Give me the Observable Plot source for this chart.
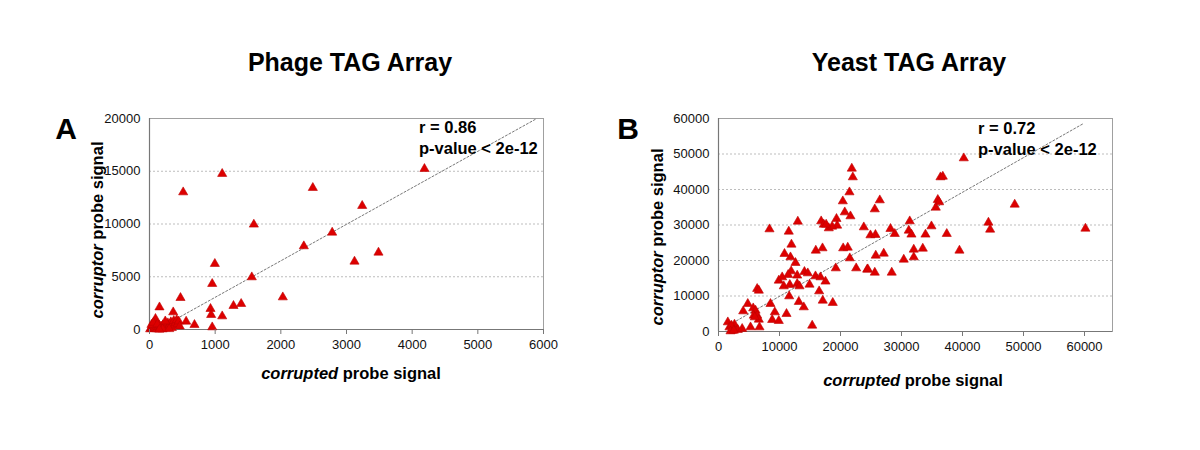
<!DOCTYPE html>
<html>
<head>
<meta charset="utf-8">
<script src="https://cdn.jsdelivr.net/npm/d3@7"></script>
<script src="https://cdn.jsdelivr.net/npm/@observablehq/plot@0.6"></script>
<style>
  body { margin: 0; background: #fff; }
  #page { position: relative; width: 1200px; height: 450px; background: #fff; font-family: "Liberation Sans", Arial, sans-serif; color: #000; overflow: hidden; }
  .abs { position: absolute; white-space: nowrap; }
  .title { font-size: 25px; font-weight: bold; transform: translate(-50%, -50%); }
  .letter { font-size: 30px; font-weight: bold; transform: translate(-50%, -50%); }
  .xlab { font-size: 16.5px; font-weight: bold; transform: translate(-50%, -50%); }
  .ylab { font-size: 16.5px; font-weight: bold; transform: translate(-50%, -50%) rotate(-90deg); }
  .ann { font-size: 16.5px; font-weight: bold; line-height: 20.5px; }
  svg.chart { position: absolute; top: 0; }
</style>
</head>
<body>
<div id="page"></div>
<script>
// ---------- Panel A: Phage TAG Array ----------
const phageCorrupted = [1107, 513, 1589, 995, 955, 1558, 2350, 2030, 472, 152, 1279, 1396, 929, 939, 1107, 361, 685, 955, 91, 558, 4187, 2487, 3239, 2782, 3122, 3487,
  10, 25, 40, 55, 70, 85, 100, 115, 130, 145, 160, 175, 190, 205, 220, 235, 250, 265, 280, 295, 310, 325, 340, 355, 370, 385, 400, 415, 430, 445, 460, 30, 60, 120, 200, 300, 150, 240];
const phageCorruptor = [14760, 13015, 9955, 6230, 4330, 4960, 7900, 3060, 3000, 2110, 2245, 2435, 1960, 1390, 1260, 1640, 445, 218, 1014, 758, 15230, 13430, 11725, 9195, 6445, 7300,
  30, 120, 60, 200, 90, 300, 150, 40, 250, 380, 120, 300, 60, 420, 200, 520, 100, 350, 600, 250, 480, 700, 150, 560, 820, 400, 650, 900, 520, 780, 300, 450, 650, 500, 30, 50, 0, 780];
const phageXTicks = [0, 1000, 2000, 3000, 4000, 5000, 6000];
const phageYTicks = [0, 5000, 10000, 15000, 20000];
const phageFit = { slope: 3.46, intercept: -410, from: 150, to: 5900 };

// ---------- Panel B: Yeast TAG Array ----------
const yeastCorrupted = [21850, 22020, 21470, 20380, 20700, 21630, 19340, 19450, 18080, 18630, 16830, 17260, 17650, 13000, 8360, 11520, 11960, 11800, 10820, 12620,
  20440, 21190, 21520, 15950, 17050, 22570, 19230, 24370, 11910, 14090, 14640, 12900, 11420, 15900, 16720, 17540, 9880, 10440, 10700, 11690,
  12900, 13280, 14920, 16500, 11590, 13160, 13980, 17090, 18730, 8520, 9230, 11150, 8800, 9880, 6340, 6610, 4800, 4050, 5690, 6070,
  5790, 6340, 6610, 5250, 6720, 15360, 1530, 1800, 2620, 2240, 3160, 3880, 2130, 1970, 2510, 5950,
  40210, 36390, 36770, 35950, 36170, 35620, 48560, 26440, 25620, 23820, 31350, 44250, 44530, 60150, 28190, 28900, 31190, 31630, 34910, 33930,
  37420, 24910, 25730, 32010, 33490, 39500, 25780, 27090, 32010, 30370, 24470, 25620, 28400];
const yeastCorruptor = [45920, 43470, 39240, 36700, 33600, 32480, 31750, 29860, 29100, 29580, 31070, 30140, 30140, 30990, 28820, 28170, 24510, 20930, 21890, 19350,
  23470, 23660, 20650, 22820, 23470, 17830, 17830, 17470, 16990, 16820, 16420, 15780, 15970, 15580, 15300, 14090, 14370, 15300, 12760, 13150,
  13440, 12760, 13240, 11350, 9950, 8370, 6850, 8730, 8090, 7800, 5440, 4980, 3290, 3010, 12030, 11550, 7800, 5720, 6560, 5920,
  4510, 4510, 3380, 1210, 1210, 1690, 2620, 1210, 1970, 280, 480, 760, 1690, 90, 280, 4030,
  48820, 43470, 43660, 37100, 36430, 34930, 35780, 36990, 34450, 29380, 31070, 30700, 28730, 29010, 28930, 27520, 28450, 27330, 29660, 27330,
  27520, 27130, 27240, 23100, 23380, 22820, 21410, 21970, 20930, 20280, 17550, 16620, 16620];
const yeastXTicks = [0, 10000, 20000, 30000, 40000, 50000, 60000];
const yeastYTicks = [0, 10000, 20000, 30000, 40000, 50000, 60000];
const yeastFit = { slope: 0.977, intercept: 130, from: 1800, to: 59800 };

const titles = ["Phage TAG Array", "Yeast TAG Array"];
const letters = ["A", "B"];
const annR = ["r = 0.86", "r = 0.72"];
const annP = "p-value < 2e-12";

function makePanel(xs, ys, xTicks, yTicks, xMax, fit, left, margins) {
  const pts = xs.map((x, i) => ({x, y: ys[i]}));
  const fitPts = [fit.from, fit.to].map(x => ({x, y: fit.slope * x + fit.intercept}));
  const yMax = yTicks[yTicks.length - 1];
  const grid = yTicks.filter(t => t > 0 && t < yMax);
  const svg = Plot.plot({
    width: 600,
    height: 450,
    marginLeft: margins[0],
    marginRight: margins[1],
    marginTop: margins[2],
    marginBottom: margins[3],
    style: {fontFamily: "'Liberation Sans', Arial, sans-serif", fontSize: "13px", background: "transparent", color: "#111"},
    x: {domain: [0, xMax]},
    y: {domain: [0, yMax]},
    marks: [
      Plot.ruleY(grid, {stroke: "#bdbdbd", strokeDasharray: "2,2", strokeWidth: 1}),
      Plot.frame({stroke: "#a0a0a0", strokeWidth: 1}),
      Plot.ruleX([0], {stroke: "#777", strokeWidth: 1.2}),
      Plot.ruleY([0], {stroke: "#777", strokeWidth: 1.2}),
      Plot.line(fitPts, {x: "x", y: "y", stroke: "#777", strokeDasharray: "2,2", strokeWidth: 1, clip: true}),
      Plot.dot(pts, {x: "x", y: "y", symbol: "triangle", r: 3.4, fill: "#dd0000", stroke: "#c00000", strokeWidth: 0.6}),
      Plot.axisX({ticks: xTicks, tickSize: 5, tickPadding: 5, tickFormat: d3.format("d"), label: null, stroke: "#777"}),
      Plot.axisY({ticks: yTicks, tickSize: 0, tickPadding: 9, tickFormat: d3.format("d"), label: null})
    ]
  });
  svg.classList.add("chart");
  svg.style.left = left + "px";
  return svg;
}

const page = document.getElementById("page");
page.appendChild(makePanel(phageCorrupted, phageCorruptor, phageXTicks, phageYTicks, 6000, phageFit, 0, [149, 57, 118, 121]));
page.appendChild(makePanel(yeastCorrupted, yeastCorruptor, yeastXTicks, yeastYTicks, 64590, yeastFit, 570, [148, 58, 118, 119]));

function addDiv(cls, html, x, y) {
  const d = document.createElement("div");
  d.className = "abs " + cls;
  d.innerHTML = html;
  d.style.left = x + "px";
  d.style.top = y + "px";
  page.appendChild(d);
}
addDiv("title", titles[0], 350, 62);
addDiv("title", titles[1], 909, 62);
addDiv("letter", letters[0], 66, 129);
addDiv("letter", letters[1], 628, 129);
addDiv("ylab", "<i>corruptor</i> probe signal", 97, 230);
addDiv("ylab", "<i>corruptor</i> probe signal", 657, 237);
addDiv("xlab", "<i>corrupted</i> probe signal", 351, 373);
addDiv("xlab", "<i>corrupted</i> probe signal", 913, 380);
addDiv("ann", annR[0] + "<br>" + annP, 419, 117);
addDiv("ann", annR[1] + "<br>" + annP, 978, 118);
</script>
</body>
</html>
